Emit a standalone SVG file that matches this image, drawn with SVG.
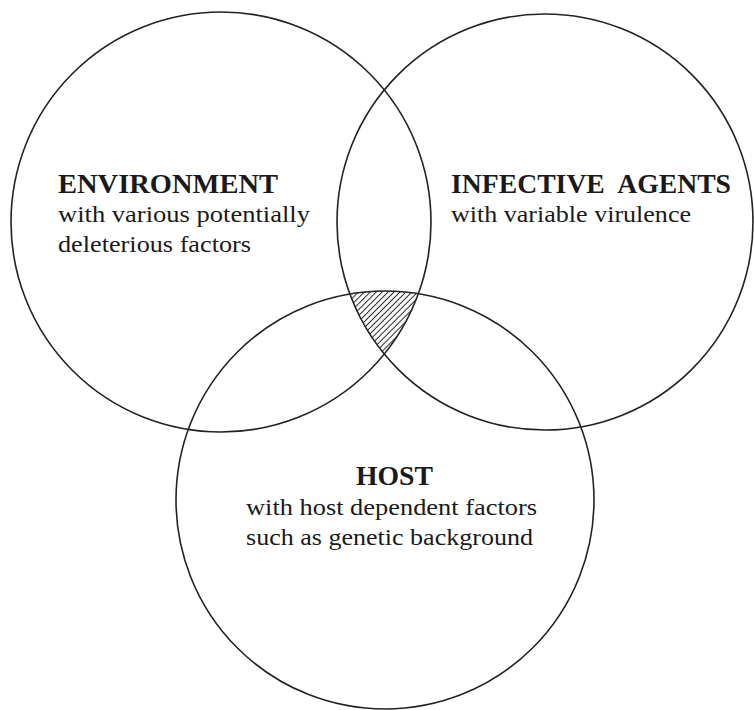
<svg xmlns="http://www.w3.org/2000/svg" width="754" height="710" viewBox="0 0 754 710">
  <style>
    .ring { fill: none; stroke: #222; stroke-width: 1.6; }
    .head { font-family: "Liberation Serif", "DejaVu Serif", serif; font-weight: bold; font-size: 28px; fill: #1a1a1a; }
    .sub { font-family: "Liberation Serif", "DejaVu Serif", serif; font-size: 23px; fill: #1a1a1a; }
  </style>
  <defs>
    <pattern id="hatch" patternUnits="userSpaceOnUse" width="8" height="4.2" patternTransform="rotate(-45)">
      <line x1="0" y1="2.1" x2="8" y2="2.1" stroke="#222" stroke-width="1"/>
    </pattern>
  </defs>
  <rect width="754" height="710" fill="#fff"/>

  <g id="core">
    <path d="M349.9,294 A209,209 0 0 1 418.4,293.7 A210,210 0 0 1 384.3,354 A208,208 0 0 1 349.9,294 Z" fill="url(#hatch)" stroke="none"/>
  </g>

  <g id="environment">
    <circle class="ring" cx="221" cy="222" r="210"/>
    <text class="head" x="58" y="193" textLength="220" lengthAdjust="spacingAndGlyphs">ENVIRONMENT</text>
    <text class="sub" x="58" y="222" textLength="252" lengthAdjust="spacingAndGlyphs">with various potentially</text>
    <text class="sub" x="58" y="252" textLength="193" lengthAdjust="spacingAndGlyphs">deleterious factors</text>
  </g>

  <g id="infective-agents">
    <circle class="ring" cx="545" cy="222" r="208"/>
    <text class="head" x="451" y="193" textLength="280" lengthAdjust="spacingAndGlyphs" xml:space="preserve">INFECTIVE  AGENTS</text>
    <text class="sub" x="451" y="222" textLength="240" lengthAdjust="spacingAndGlyphs">with variable virulence</text>
  </g>

  <g id="host">
    <circle class="ring" cx="385" cy="500" r="209"/>
    <text class="head" x="356" y="485" textLength="77" lengthAdjust="spacingAndGlyphs">HOST</text>
    <text class="sub" x="246" y="515" textLength="291" lengthAdjust="spacingAndGlyphs">with host dependent factors</text>
    <text class="sub" x="246" y="545" textLength="287" lengthAdjust="spacingAndGlyphs">such as genetic background</text>
  </g>
</svg>
